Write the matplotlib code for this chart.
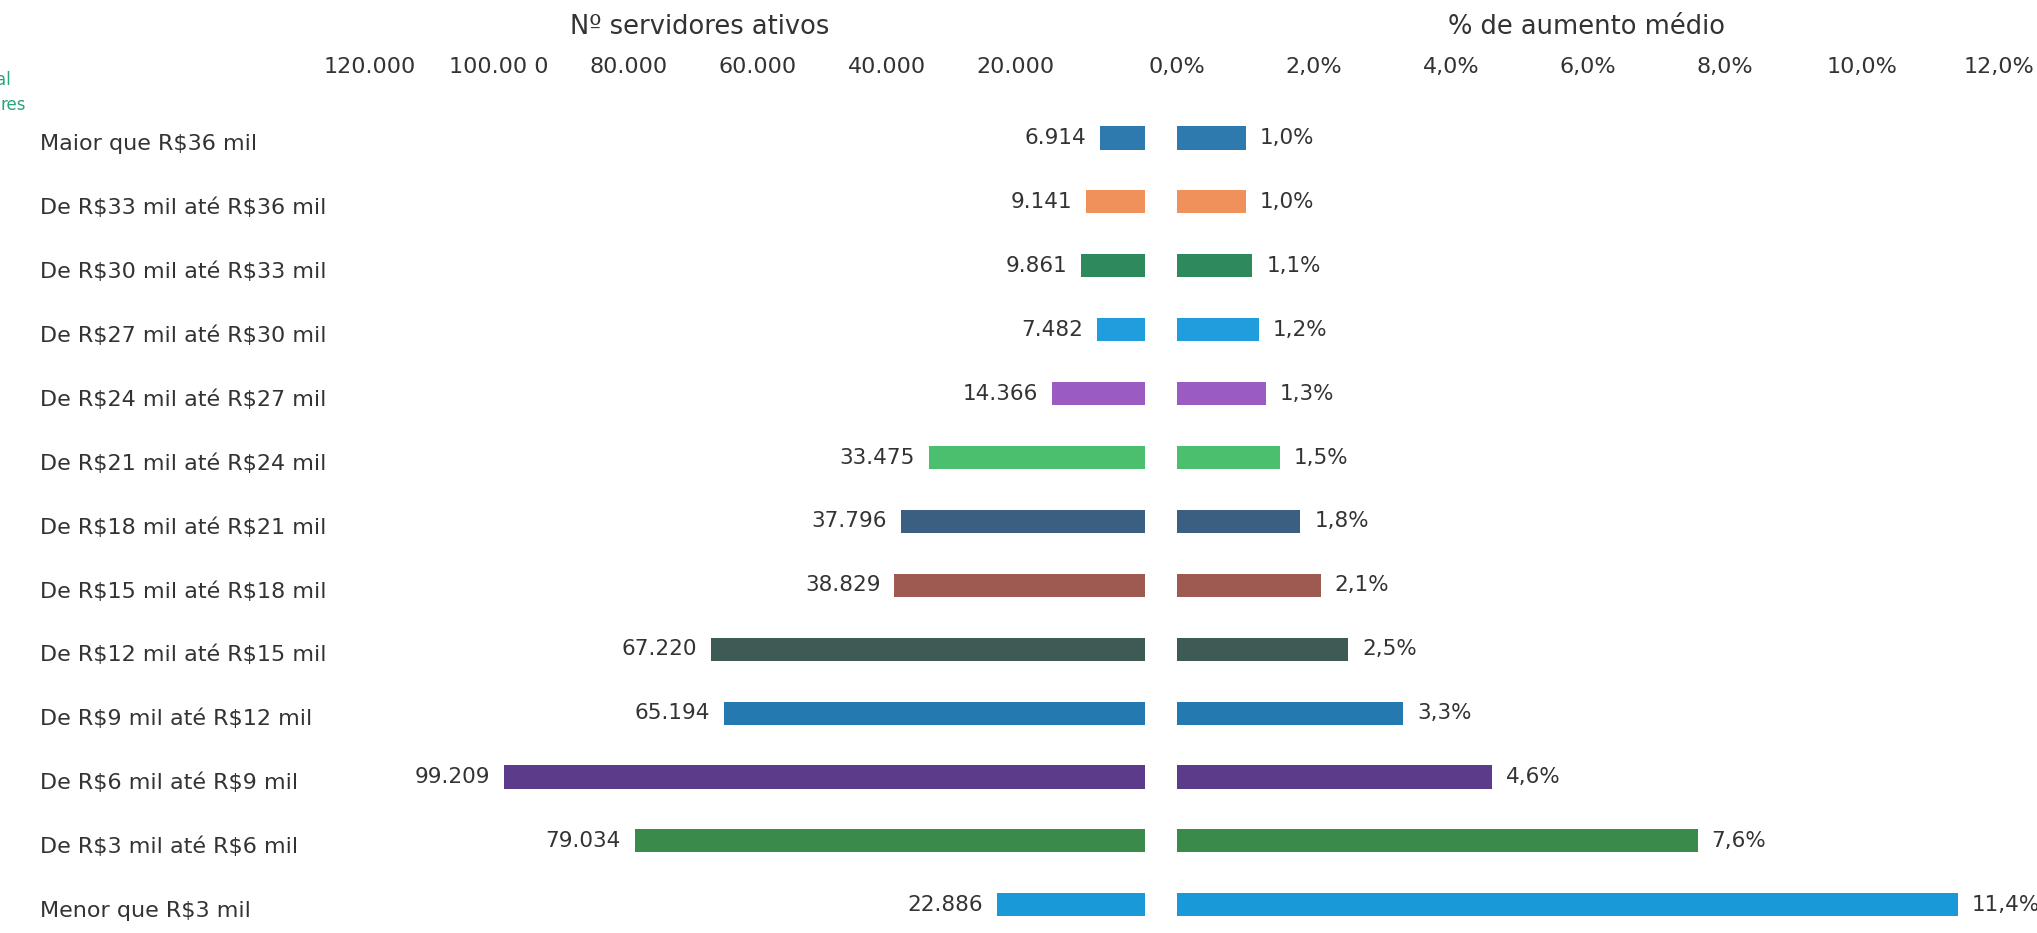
import matplotlib
matplotlib.use("Agg")
import matplotlib.pyplot as plt
from matplotlib.ticker import FixedLocator

categories = [
    "Maior que R$36 mil",
    "De R$33 mil até R$36 mil",
    "De R$30 mil até R$33 mil",
    "De R$27 mil até R$30 mil",
    "De R$24 mil até R$27 mil",
    "De R$21 mil até R$24 mil",
    "De R$18 mil até R$21 mil",
    "De R$15 mil até R$18 mil",
    "De R$12 mil até R$15 mil",
    "De R$9 mil até R$12 mil",
    "De R$6 mil até R$9 mil",
    "De R$3 mil até R$6 mil",
    "Menor que R$3 mil",
]
servidores = [6914, 9141, 9861, 7482, 14366, 33475, 37796, 38829, 67220, 65194, 99209, 79034, 22886]
servidores_labels = ["6.914", "9.141", "9.861", "7.482", "14.366", "33.475", "37.796",
                     "38.829", "67.220", "65.194", "99.209", "79.034", "22.886"]
aumento = [1.0, 1.0, 1.1, 1.2, 1.3, 1.5, 1.8, 2.1, 2.5, 3.3, 4.6, 7.6, 11.4]
aumento_labels = ["1,0%", "1,0%", "1,1%", "1,2%", "1,3%", "1,5%", "1,8%",
                  "2,1%", "2,5%", "3,3%", "4,6%", "7,6%", "11,4%"]
colors = ["#2e79ad", "#f0905a", "#2e8a5c", "#1f9ddd", "#9a5cc0", "#4cbf6e", "#3a5f80",
          "#9e5a50", "#3d5a55", "#2479b0", "#5c3b8a", "#3a8a4c", "#1a99d8"]

left_ticks = [120000, 100000, 80000, 60000, 40000, 20000]
left_ticklabels = ["120.000", "100.00 0", "80.000", "60.000", "40.000", "20.000"]
right_ticks = [0, 2, 4, 6, 8, 10, 12]
right_ticklabels = ["0,0%", "2,0%", "4,0%", "6,0%", "8,0%", "10,0%", "12,0%"]

W, H = 2037, 933
fig = plt.figure(figsize=(W / 100, H / 100), dpi=100)
plt.rcParams['font.family'] = ['DejaVu Sans']
txt = "#333333"

top_px, bot_px = 108, 933
row0, rowstep = 138, 63.9
y_top = -(row0 - top_px) / rowstep
y_bot = (bot_px - row0) / rowstep

def px_axes(x0, x1):
    return [x0 / W, 1 - bot_px / H, (x1 - x0) / W, (bot_px - top_px) / H]

axL = fig.add_axes(px_axes(370, 1145))
axR = fig.add_axes(px_axes(1177, 1999))

ys = list(range(len(categories)))
h = 0.36
axL.barh(ys, servidores, height=h, color=colors)
axR.barh(ys, aumento, height=h, color=colors)

axL.set_xlim(120000, 0)
axR.set_xlim(0, 12)
for ax in (axL, axR):
    ax.set_ylim(y_bot, y_top)
    for s in ax.spines.values():
        s.set_visible(False)
    ax.tick_params(axis='y', length=0)
    ax.tick_params(axis='x', length=0, top=True, bottom=False,
                   labeltop=True, labelbottom=False, labelsize=16, colors=txt, pad=22)
    ax.set_yticks([])

axL.xaxis.set_major_locator(FixedLocator(left_ticks))
axL.set_xticklabels(left_ticklabels)
axR.xaxis.set_major_locator(FixedLocator(right_ticks))
axR.set_xticklabels(right_ticklabels)

for i, (v, lab) in enumerate(zip(servidores, servidores_labels)):
    axL.annotate(lab, (v, i), xytext=(-10, 0), textcoords='offset points',
                 ha='right', va='center', fontsize=15.5, color=txt)
for i, (v, lab) in enumerate(zip(aumento, aumento_labels)):
    axR.annotate(lab, (v, i), xytext=(10, 0), textcoords='offset points',
                 ha='left', va='center', fontsize=15.5, color=txt)

for i, c in enumerate(categories):
    ypx = row0 + i * rowstep + 6
    fig.text(40 / W, 1 - ypx / H, c, ha='left', va='center', fontsize=16,
             color=txt, parse_math=False)

fig.text(700 / W, 1 - 27 / H, "Nº servidores ativos", ha='center', va='center',
         fontsize=18.5, color=txt)
fig.text(1587 / W, 1 - 27 / H, "% de aumento médio", ha='center', va='center',
         fontsize=18.5, color=txt)

fig.text(-4 / W, 1 - 80 / H, "al", ha='left', va='center', fontsize=12, color="#2aa37a")
fig.text(0 / W, 1 - 105 / H, "res", ha='left', va='center', fontsize=12, color="#2aa37a")

fig.savefig("out.png", dpi=100, facecolor="white")
